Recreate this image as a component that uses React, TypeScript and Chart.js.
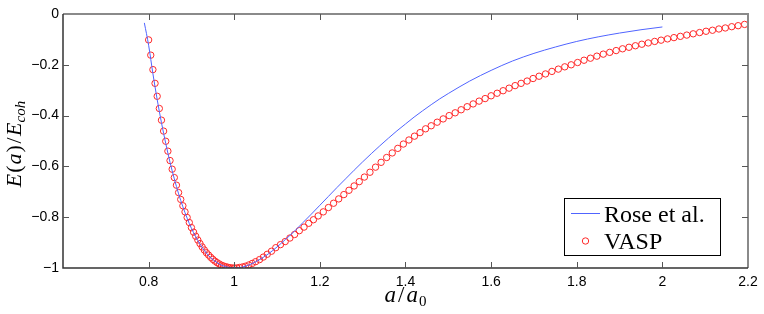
import React, { useEffect, useRef } from 'react';
import { Chart, registerables } from 'chart.js';

Chart.register(...registerables);

// ---- data ----
const roseX = [0.79, 0.80, 0.81, 0.82, 0.83, 0.84, 0.85, 0.86, 0.87, 0.88, 0.89, 0.90, 0.92, 0.94, 0.96, 0.98, 1.00,
  1.02, 1.04, 1.06, 1.08, 1.10, 1.12, 1.14, 1.16, 1.18, 1.20, 1.22, 1.24, 1.26, 1.28, 1.30, 1.32, 1.34, 1.36, 1.38, 1.40,
  1.42, 1.44, 1.46, 1.48, 1.50, 1.55, 1.60, 1.65, 1.70, 1.75, 1.80, 1.85, 1.90, 1.95, 2.00];
const roseY = [-0.035, -0.123, -0.235, -0.337, -0.428, -0.510, -0.584, -0.649, -0.708, -0.759, -0.804, -0.844, -0.906, -0.951, -0.979, -0.995, -1.000,
  -0.996, -0.984, -0.966, -0.944, -0.917, -0.887, -0.856, -0.822, -0.788, -0.753, -0.718, -0.683, -0.649, -0.615, -0.582, -0.550, -0.519, -0.489, -0.460, -0.433,
  -0.406, -0.381, -0.357, -0.334, -0.313, -0.264, -0.222, -0.185, -0.155, -0.130, -0.108, -0.090, -0.075, -0.062, -0.051];

const vaspX = [0.800, 0.805, 0.810, 0.815, 0.820, 0.825, 0.830, 0.835, 0.840, 0.845, 0.850, 0.855, 0.860, 0.865, 0.870, 0.875,
  0.880, 0.885, 0.890, 0.895, 0.900, 0.905, 0.910, 0.915, 0.920, 0.925, 0.930, 0.935, 0.940, 0.945, 0.950, 0.955, 0.960, 0.965,
  0.970, 0.975, 0.980, 0.985, 0.990, 0.995, 1.000,
  1.006, 1.012, 1.019, 1.026, 1.034, 1.042, 1.050, 1.059, 1.068, 1.077, 1.087, 1.097,
  1.108, 1.119, 1.130, 1.141, 1.152, 1.163, 1.174, 1.185, 1.196,
  1.208, 1.220, 1.232, 1.244, 1.256, 1.268, 1.280, 1.292, 1.304,
  1.317, 1.330, 1.343, 1.356, 1.369, 1.382, 1.395, 1.408, 1.421, 1.434, 1.447, 1.460,
  1.474, 1.488, 1.502, 1.516, 1.530, 1.544, 1.558, 1.572, 1.586, 1.600, 1.614, 1.628, 1.642, 1.656, 1.670, 1.684, 1.698, 1.712,
  1.727, 1.742, 1.757, 1.772, 1.787, 1.802, 1.817, 1.832, 1.847, 1.862, 1.877, 1.892, 1.907, 1.922, 1.937, 1.952,
  1.967, 1.982, 1.997, 2.012, 2.027, 2.042, 2.057, 2.072, 2.087, 2.102, 2.117, 2.132, 2.147, 2.162, 2.177, 2.192];
const vaspY = [-0.102, -0.162, -0.219, -0.273, -0.324, -0.372, -0.418, -0.461, -0.501, -0.540, -0.577, -0.611, -0.644, -0.674, -0.703, -0.730,
  -0.755, -0.779, -0.801, -0.821, -0.841, -0.859, -0.875, -0.890, -0.904, -0.917, -0.929, -0.940, -0.949, -0.958, -0.966, -0.973, -0.979, -0.984,
  -0.989, -0.992, -0.995, -0.997, -0.999, -1.000, -1.000,
  -1.000, -0.998, -0.996, -0.993, -0.988, -0.982, -0.975, -0.967, -0.957, -0.946, -0.934, -0.920,
  -0.908, -0.896, -0.882, -0.868, -0.853, -0.839, -0.824, -0.810, -0.795,
  -0.779, -0.762, -0.745, -0.728, -0.711, -0.694, -0.677, -0.660, -0.642,
  -0.623, -0.603, -0.584, -0.565, -0.547, -0.529, -0.512, -0.496, -0.481, -0.467, -0.452, -0.440,
  -0.426, -0.413, -0.400, -0.389, -0.377, -0.365, -0.354, -0.343, -0.333, -0.322, -0.312, -0.302, -0.292, -0.282, -0.273, -0.264, -0.254, -0.245,
  -0.236, -0.226, -0.217, -0.208, -0.200, -0.191, -0.182, -0.174, -0.166, -0.158, -0.151, -0.144, -0.137, -0.131, -0.125, -0.119,
  -0.114, -0.108, -0.103, -0.098, -0.093, -0.088, -0.083, -0.078, -0.073, -0.068, -0.064, -0.059, -0.055, -0.050, -0.046, -0.041];

const xTicks = [0.8, 1, 1.2, 1.4, 1.6, 1.8, 2, 2.2];
const xTickLabels = ['0.8', '1', '1.2', '1.4', '1.6', '1.8', '2', '2.2'];
const yTicks = [0, -0.2, -0.4, -0.6, -0.8, -1];
const yTickLabels = ['0', '\u22120.2', '\u22120.4', '\u22120.6', '\u22120.8', '\u22121'];
const seriesNames = ['Rose et al.', 'VASP'];

const BLUE = 'rgb(80,100,255)';
const RED = 'rgb(255,40,40)';
const SERIF = '"Liberation Serif", "Times New Roman", serif';
const SANS = '"Liberation Sans", Arial, sans-serif';

type Run = { t: string; italic?: boolean; size: number; dy?: number; gap?: number };

function runsWidth(ctx: CanvasRenderingContext2D, runs: Run[]) {
  let w = 0;
  for (const r of runs) {
    ctx.font = `${r.italic ? 'italic ' : ''}${r.size}px ${SERIF}`;
    w += ctx.measureText(r.t).width + (r.gap || 0);
  }
  return w;
}

function drawRuns(ctx: CanvasRenderingContext2D, runs: Run[], x: number, y: number) {
  let cx = x;
  ctx.textAlign = 'left';
  ctx.textBaseline = 'alphabetic';
  for (const r of runs) {
    ctx.font = `${r.italic ? 'italic ' : ''}${r.size}px ${SERIF}`;
    ctx.fillText(r.t, cx, y + (r.dy || 0));
    cx += ctx.measureText(r.t).width + (r.gap || 0);
  }
}

const decorPlugin = {
  id: 'decor',
  afterDraw(chart: any) {
    const ctx: CanvasRenderingContext2D = chart.ctx;
    const { left, right, top, bottom } = chart.chartArea;
    const xs = chart.scales.x;
    const ys = chart.scales.y;
    ctx.save();
    // box
    ctx.lineWidth = 2;
    ctx.strokeStyle = '#8a8a8a';
    ctx.beginPath();
    ctx.moveTo(left, top); ctx.lineTo(right, top); ctx.lineTo(right, bottom);
    ctx.stroke();
    ctx.lineWidth = 1.5;
    ctx.strokeStyle = '#333';
    ctx.beginPath();
    ctx.moveTo(left, top); ctx.lineTo(left, bottom); ctx.lineTo(right, bottom);
    ctx.stroke();
    // ticks (inward)
    const TL = 6;
    ctx.lineWidth = 1;
    ctx.strokeStyle = '#555';
    ctx.beginPath();
    for (const v of xTicks) {
      const px = Math.round(xs.getPixelForValue(v)) + 0.5;
      if (px > right - 1) continue;
      ctx.moveTo(px, bottom); ctx.lineTo(px, bottom - TL);
      ctx.moveTo(px, top); ctx.lineTo(px, top + TL);
    }
    for (const v of yTicks) {
      const py = Math.round(ys.getPixelForValue(v)) + 0.5;
      if (py < top + 1 || py > bottom - 1) continue;
      ctx.moveTo(left, py); ctx.lineTo(left + TL, py);
      ctx.moveTo(right, py); ctx.lineTo(right - TL, py);
    }
    ctx.stroke();
    // tick labels
    ctx.fillStyle = '#000';
    ctx.font = `14px ${SANS}`;
    ctx.textAlign = 'center';
    ctx.textBaseline = 'middle';
    xTicks.forEach((v, i) => {
      ctx.fillText(xTickLabels[i], xs.getPixelForValue(v), bottom + 14);
    });
    ctx.textAlign = 'right';
    yTicks.forEach((v, i) => {
      ctx.fillText(yTickLabels[i], left - 4, ys.getPixelForValue(v));
    });
    // x title a/a_0
    const xRuns: Run[] = [
      { t: 'a', italic: true, size: 23, gap: 2 },
      { t: '/', size: 23, gap: 2 },
      { t: 'a', italic: true, size: 23, gap: 1 },
      { t: '0', size: 15, dy: 4 },
    ];
    const xw = runsWidth(ctx, xRuns);
    drawRuns(ctx, xRuns, (left + right) / 2 - xw / 2, 302);
    // y title E(a)/E_coh
    const yRuns: Run[] = [
      { t: 'E', italic: true, size: 22, gap: 1 },
      { t: '(', size: 22, gap: 1 },
      { t: 'a', italic: true, size: 22, gap: 1 },
      { t: ')', size: 22, gap: 1.5 },
      { t: '/', size: 22, gap: 1.5 },
      { t: 'E', italic: true, size: 22, gap: 0 },
      { t: 'coh', italic: true, size: 15, dy: 4 },
    ];
    const yw = runsWidth(ctx, yRuns);
    ctx.save();
    ctx.translate(21, (top + bottom) / 2 + 3);
    ctx.rotate(-Math.PI / 2);
    drawRuns(ctx, yRuns, -yw / 2, 0);
    ctx.restore();
    // legend
    const lx = 564.5, ly = 198.5, lw = 156, lh = 57;
    ctx.fillStyle = '#fff';
    ctx.fillRect(lx, ly, lw, lh);
    ctx.strokeStyle = '#000';
    ctx.lineWidth = 1;
    ctx.strokeRect(lx, ly, lw, lh);
    ctx.strokeStyle = BLUE;
    ctx.beginPath();
    ctx.moveTo(571, 213.5); ctx.lineTo(600, 213.5);
    ctx.stroke();
    ctx.strokeStyle = RED;
    ctx.beginPath();
    ctx.arc(585.5, 241, 3.2, 0, Math.PI * 2);
    ctx.stroke();
    ctx.fillStyle = '#000';
    ctx.font = `24px ${SERIF}`;
    ctx.textAlign = 'left';
    ctx.textBaseline = 'alphabetic';
    ctx.fillText(seriesNames[0], 604, 221.5);
    ctx.fillText(seriesNames[1], 604, 248.5);
    ctx.restore();
  },
};

export default function App() {
  const ref = useRef<HTMLCanvasElement>(null);
  useEffect(() => {
    document.body.style.margin = '0';
    const canvas = ref.current!;
    const chart = new Chart(canvas, {
      type: 'scatter',
      data: {
        datasets: [
          {
            label: seriesNames[0],
            data: roseX.map((x, i) => ({ x, y: roseY[i] })),
            showLine: true,
            borderColor: BLUE,
            borderWidth: 1,
            pointRadius: 0,
            cubicInterpolationMode: 'monotone',
          },
          {
            label: seriesNames[1],
            data: vaspX.map((x, i) => ({ x, y: vaspY[i] })),
            showLine: false,
            borderColor: RED,
            backgroundColor: 'rgba(0,0,0,0)',
            borderWidth: 1,
            pointRadius: 3.2,
            pointStyle: 'circle',
          },
        ],
      },
      options: {
        responsive: false,
        animation: false,
        devicePixelRatio: 1,
        layout: { padding: { left: 63, right: 16, top: 14, bottom: 46 } },
        scales: {
          x: { type: 'linear', min: 0.6, max: 2.2, display: false },
          y: { type: 'linear', min: -1, max: 0, display: false },
        },
        plugins: { legend: { display: false }, tooltip: { enabled: false } },
      },
      plugins: [decorPlugin],
    } as any);
    return () => chart.destroy();
  }, []);
  return (
    <div style={{ width: 764, height: 314, background: '#fff' }}>
      <canvas ref={ref} width={764} height={314} style={{ display: 'block' }} />
    </div>
  );
}
